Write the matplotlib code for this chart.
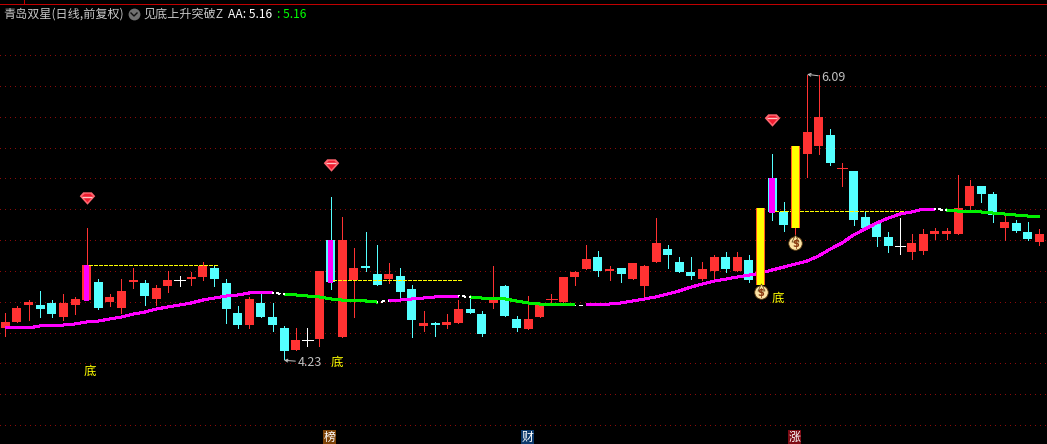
import matplotlib
matplotlib.use("Agg")
import matplotlib.pyplot as plt
from matplotlib.lines import Line2D
import numpy as np

plt.rcParams['font.family'] = ['Noto Sans CJK SC', 'DejaVu Sans']

W, H = 1047, 444

opens = [4.43, 4.47, 4.58, 4.58, 4.59, 4.50, 4.58, 4.61, 4.73, 4.60,
         4.56, 4.73, 4.72, 4.62, 4.70, 4.74, 4.75, 4.76, 4.82, 4.72,
         4.53, 4.45, 4.59, 4.50, 4.43, 4.29, 4.35, 4.36, 5.00, 4.37,
         4.74, 4.83, 4.78, 4.75, 4.77, 4.68, 4.44, 4.46, 4.45, 4.46,
         4.55, 4.52, 4.59, 4.70, 4.49, 4.42, 4.50, 4.62, 4.60, 4.76,
         4.81, 4.89, 4.80, 4.82, 4.75, 4.70, 4.86, 4.94, 4.86, 4.79,
         4.75, 4.80, 4.89, 4.80, 4.87, 4.71, 5.40, 5.18, 5.08, 5.56,
         5.61, 5.68, 5.47, 5.45, 5.15, 5.11, 5.02, 4.96, 4.92, 4.93,
         5.04, 5.04, 5.04, 5.22, 5.35, 5.30, 5.08, 5.11, 5.05, 4.99]
closes = [4.47, 4.56, 4.60, 4.55, 4.52, 4.59, 4.62, 4.84, 4.56, 4.63,
          4.67, 4.74, 4.64, 4.69, 4.74, 4.74, 4.76, 4.83, 4.75, 4.55,
          4.45, 4.62, 4.50, 4.45, 4.28, 4.35, 4.35, 4.80, 4.73, 5.00,
          4.82, 4.82, 4.71, 4.78, 4.66, 4.48, 4.46, 4.45, 4.47, 4.55,
          4.53, 4.39, 4.63, 4.51, 4.43, 4.49, 4.58, 4.62, 4.76, 4.79,
          4.88, 4.80, 4.81, 4.78, 4.85, 4.83, 4.98, 4.90, 4.79, 4.77,
          4.81, 4.89, 4.81, 4.89, 4.74, 5.21, 5.18, 5.10, 5.61, 5.70,
          5.80, 5.50, 5.47, 5.13, 5.08, 5.02, 4.96, 4.96, 4.98, 5.04,
          5.06, 5.06, 5.21, 5.35, 5.30, 5.16, 5.12, 5.06, 5.01, 5.04]
highs = [4.53, 4.57, 4.61, 4.67, 4.61, 4.65, 4.63, 5.08, 4.75, 4.65,
         4.75, 4.82, 4.74, 4.71, 4.80, 4.77, 4.79, 4.86, 4.84, 4.75,
         4.57, 4.63, 4.65, 4.59, 4.44, 4.43, 4.43, 4.80, 5.28, 5.15,
         4.95, 5.05, 4.97, 4.85, 4.82, 4.71, 4.54, 4.47, 4.52, 4.61,
         4.63, 4.54, 4.83, 4.71, 4.51, 4.64, 4.58, 4.65, 4.76, 4.80,
         4.97, 4.93, 4.83, 4.82, 4.85, 4.84, 5.14, 4.97, 4.89, 4.89,
         4.86, 4.90, 4.92, 4.92, 4.90, 5.21, 5.56, 5.25, 5.61, 6.07,
         6.07, 5.72, 5.50, 5.45, 5.18, 5.11, 5.05, 5.14, 5.04, 5.07,
         5.08, 5.08, 5.42, 5.39, 5.35, 5.31, 5.16, 5.13, 5.12, 5.07]
lows = [4.38, 4.47, 4.48, 4.50, 4.50, 4.48, 4.52, 4.61, 4.55, 4.57,
        4.53, 4.69, 4.58, 4.58, 4.66, 4.70, 4.71, 4.74, 4.70, 4.46,
        4.43, 4.43, 4.50, 4.41, 4.23, 4.29, 4.31, 4.31, 4.68, 4.37,
        4.50, 4.80, 4.71, 4.72, 4.62, 4.37, 4.41, 4.38, 4.43, 4.46,
        4.53, 4.38, 4.56, 4.51, 4.41, 4.42, 4.50, 4.59, 4.59, 4.71,
        4.81, 4.77, 4.74, 4.73, 4.75, 4.61, 4.86, 4.82, 4.79, 4.75,
        4.74, 4.75, 4.79, 4.80, 4.73, 4.71, 5.13, 5.06, 5.03, 5.41,
        5.56, 5.49, 5.35, 5.10, 5.07, 4.96, 4.92, 4.91, 4.88, 4.91,
        5.01, 5.01, 5.04, 5.20, 5.25, 5.12, 5.00, 5.05, 5.00, 4.97]
aa = [4.430, 4.430, 4.430, 4.443, 4.443, 4.449, 4.456, 4.469, 4.475, 4.488,
      4.501, 4.520, 4.533, 4.553, 4.566, 4.579, 4.592, 4.611, 4.624, 4.637,
      4.644, 4.657, 4.657, 4.657, 4.650, 4.644, 4.637, 4.631, 4.618, 4.611,
      4.605, 4.605, 4.598, 4.605, 4.611, 4.618, 4.624, 4.631, 4.637, 4.637,
      4.631, 4.624, 4.618, 4.618, 4.605, 4.592, 4.585, 4.579, 4.579, 4.579,
      4.579, 4.585, 4.585, 4.592, 4.605, 4.618, 4.631, 4.650, 4.670, 4.695,
      4.715, 4.734, 4.747, 4.760, 4.773, 4.786, 4.806, 4.825, 4.845, 4.864,
      4.897, 4.942, 4.981, 5.033, 5.072, 5.111, 5.143, 5.169, 5.182, 5.201,
      5.201, 5.195, 5.188, 5.182, 5.182, 5.175, 5.169, 5.162, 5.156, 5.156]

# (first index, last index) of each stretch of the AA line
rising = [(0, 23), (33, 39), (50, 80)]
falling = [(24, 32), (40, 49), (81, 89)]

red_doji = [47, 72]
magenta_bars = [7, 28, 66]
yellow_bars = [65, 68]

ruby_idx = [7, 28, 66]
ruby_price = [5.27, 5.49, 5.78]
bag_idx = [65, 68]
bag_price = [4.66, 4.98]
di_idx = [7.3, 28.5, 66.5]
di_price = [4.15, 4.21, 4.62]
breakouts = [(7, 18, 4.84), (28, 39, 4.74), (66, 77, 5.19)]
grid_prices = [6.2, 6.0, 5.8, 5.6, 5.4, 5.2, 5.0, 4.8, 4.6, 4.4, 4.2, 4.0, 3.8]
badges = ['榜', '财', '涨']
badge_idx = [27.9, 44.9, 67.9]
badge_colors = ['#7c4207', '#0c3a6c', '#7d0b14']

RED = '#ff3232'
CYAN = '#54ffff'
MAGENTA = '#ff00ff'
GREEN = '#00f000'
PX = 0.72  # one pixel in points at dpi 100

fig = plt.figure(figsize=(W / 100, H / 100), dpi=100, facecolor='black')
ax = fig.add_axes([0, 0, 1, 1], facecolor='black')
ax.set_xlim((0 - 5.3) / 11.62, (W - 5.3) / 11.62)
ax.set_ylim(6.557 - 0.006486 * H, 6.557)
ax.axis('off')

for p in grid_prices:
    ax.axhline(p, color='#8c0a0a', lw=PX, ls=(0, (1, 5)), zorder=1, antialiased=False)

x = np.arange(len(opens))
o, c, h, l = map(np.array, (opens, closes, highs, lows))
colors = np.where(c > o, RED, np.where(c < o, CYAN, 'white'))
colors = colors.astype(object)
for i in red_doji:
    colors[i] = RED
colors = list(colors)

ax.vlines(x, l, h, colors=colors, lw=PX, zorder=2, antialiased=False)
top = np.maximum(o, c)
bot = np.minimum(o, c)
solid = top > bot
ax.bar(x[solid], (top - bot)[solid], bottom=bot[solid], width=9 / 11.62,
       color=[colors[i] for i in x[solid]], lw=0, zorder=2.1, antialiased=False)
ax.hlines(o[~solid], x[~solid] - 0.46, x[~solid] + 0.46,
          colors=[colors[i] for i in x[~solid]], lw=PX, zorder=2.1, antialiased=False)

# the AA line, white dashes where it changes direction
for a, b in rising:
    ax.plot(x[a:b + 1], np.array(aa)[a:b + 1], color=MAGENTA, lw=2 * PX,
            solid_capstyle='butt', zorder=3, antialiased=False)
for a, b in falling:
    ax.plot(x[a:b + 1], np.array(aa)[a:b + 1], color=GREEN, lw=2 * PX,
            solid_capstyle='butt', zorder=3, antialiased=False)
for a, b in [(23, 24), (32, 33), (39, 40), (49, 50), (80, 81)]:
    ax.plot([x[a], x[b]], [aa[a], aa[b]], color='white', lw=PX,
            ls=(3, (3, 3)), zorder=3, antialiased=False)

for a, b, p in breakouts:
    ax.plot([a + 0.2, b + 0.25], [p, p], color='#ffff00', lw=PX,
            ls=(0, (4, 2)), zorder=3, antialiased=False)

for i in magenta_bars:
    ax.bar(i, top[i] - bot[i] + 0.006, bottom=bot[i] - 0.006, width=5.5 / 11.62,
           color=MAGENTA, lw=0, zorder=4, antialiased=False)
for i in yellow_bars:
    ax.bar(i, top[i] - bot[i], bottom=bot[i], width=9.6 / 11.62, color='#ff5a20',
           lw=0, zorder=4, antialiased=False)
    ax.bar(i, top[i] - bot[i], bottom=bot[i], width=6.8 / 11.62, color='#ffff00',
           lw=0, zorder=4.1, antialiased=False)

# ruby signals
ruby = [(-1, 0.3), (-0.55, 0.8), (0.55, 0.8), (1, 0.3), (0, -0.8)]
ruby_in = [(-0.7, 0.3), (-0.35, 0.6), (0.35, 0.6), (0.7, 0.3), (0, -0.5)]
ax.scatter(ruby_idx, ruby_price, marker=ruby, s=125, color='#ff6670', lw=0, zorder=5)
ax.scatter(ruby_idx, ruby_price, marker=ruby_in, s=62, color='#f01c30', lw=0, zorder=5.1)
ax.scatter(ruby_idx, np.array(ruby_price) + 0.012, marker='_', s=50, color='#ffc4c4',
           lw=1.0, zorder=5.2)

# money bags
ax.scatter(bag_idx, bag_price, marker='o', s=95, color='#fbe2a4', edgecolors='#5e3c10',
           lw=0.6, zorder=5)
ax.scatter(bag_idx, np.array(bag_price) + 0.036, marker='^', s=26, color='#fbe2a4',
           edgecolors='#5e3c10', lw=0.5, zorder=5)
for i, p in zip(bag_idx, bag_price):
    ax.text(i, p - 0.004, '$', color='#8a3a10', fontsize=7, fontweight='bold', ha='center',
            va='center', family='DejaVu Sans', zorder=6)

for i, p in zip(di_idx, di_price):
    ax.text(i, p, '底', color='#ffff00', fontsize=9, ha='center', va='center', zorder=6)

# high and low flags
ax.annotate('4.23', xy=(23.98, 4.22), xytext=(25.2, 4.205), color='#c0c0c0', fontsize=9,
            va='center', ha='left',
            arrowprops=dict(arrowstyle='->', color='#c0c0c0', lw=PX, shrinkA=0, shrinkB=0,
                            mutation_scale=5, relpos=(0, 0.6)), zorder=6)
ax.annotate('6.09', xy=(69.0, 6.075), xytext=(70.2, 6.055), color='#c0c0c0', fontsize=9,
            va='center', ha='left',
            arrowprops=dict(arrowstyle='->', color='#c0c0c0', lw=PX, shrinkA=0, shrinkB=0,
                            mutation_scale=5, relpos=(0, 0.6)), zorder=6)

for t, i, col in zip(badges, badge_idx, badge_colors):
    ax.text(i, 3.72, t, color='white', fontsize=8.6, ha='center', va='center', zorder=6,
            bbox=dict(boxstyle='square,pad=0.05', fc=col, ec='none'))

# header strip
fig.add_artist(Line2D([0, 1], [1 - 4.5 / H, 1 - 4.5 / H], color='#c00000', lw=PX, antialiased=False))
fig.add_artist(Line2D([23.5 / W, 23.5 / W], [1 - 4.5 / H, 1], color='#c00000', lw=PX, antialiased=False))
fig.text(3 / W, 1 - 14 / H, '青岛双星(日线,前复权)', color='#c8c8c8', fontsize=8.7, va='center')
fig.add_artist(Line2D([134 / W], [1 - 14 / H], marker='o', ms=8.5, color='#707070', mew=0))
fig.add_artist(Line2D([131 / W, 134 / W, 137 / W], [1 - 13 / H, 1 - 16 / H, 1 - 13 / H],
                      color='#101010', lw=1.0))
fig.text(143 / W, 1 - 14 / H, '见底上升突破Z', color='#c8c8c8', fontsize=8.7, va='center')
fig.text(228 / W, 1 - 14 / H, 'AA: 5.16', color='white', fontsize=8.7, va='center')
fig.text(277 / W, 1 - 14 / H, ': 5.16', color='#00ff00', fontsize=8.7, va='center')

fig.savefig('out.png', dpi=100, facecolor='black')
